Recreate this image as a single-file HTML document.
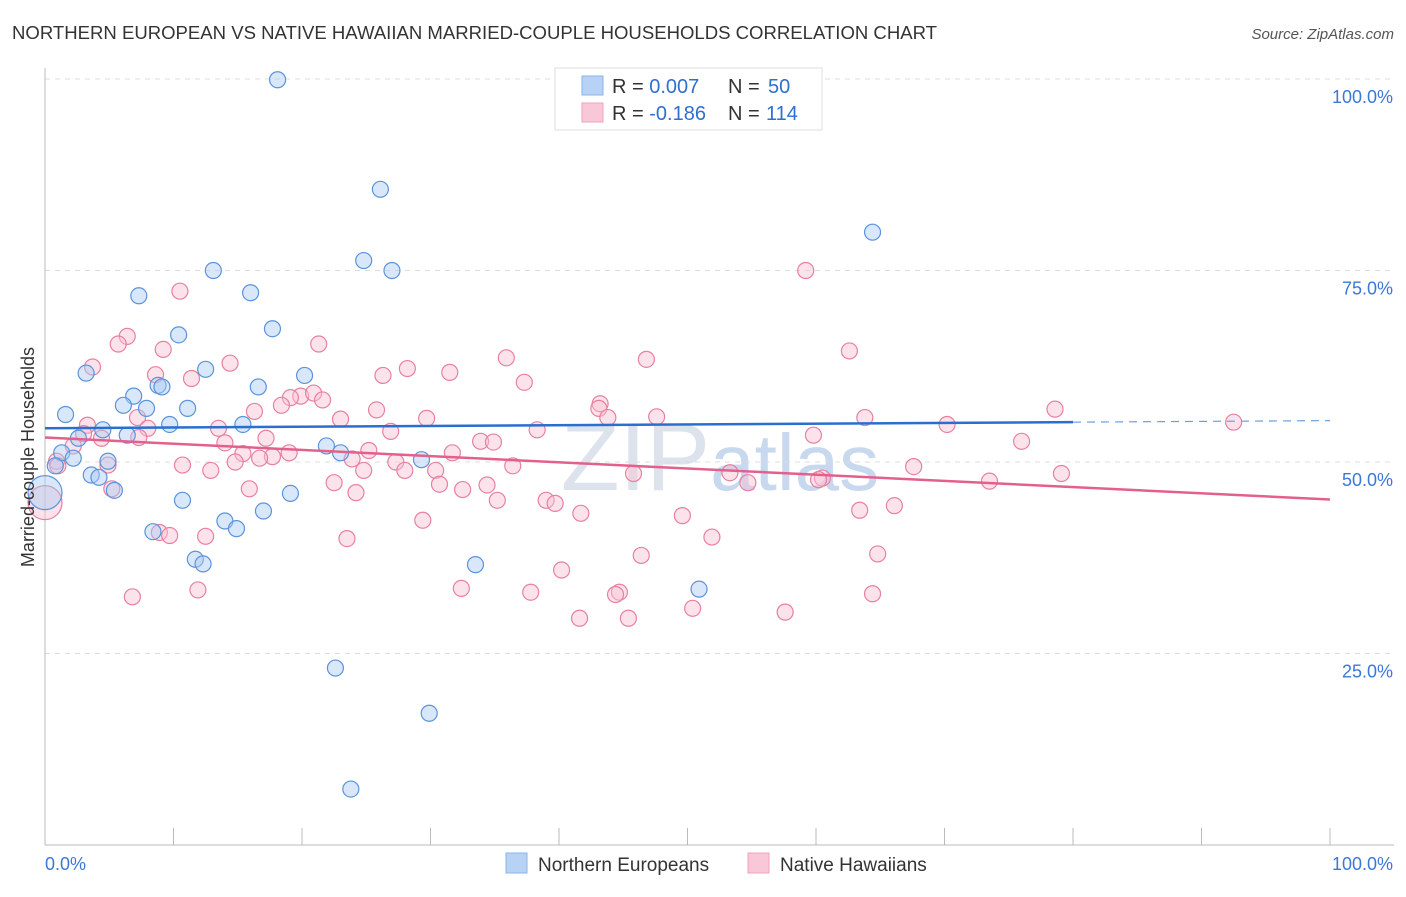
<!DOCTYPE html>
<html><head><meta charset="utf-8"><style>
body{margin:0;background:#fff;font-family:"Liberation Sans",sans-serif;}
svg text{font-family:"Liberation Sans",sans-serif;}
</style></head><body>
<svg id="chart" width="1406" height="892" xmlns="http://www.w3.org/2000/svg">
<text x="12" y="39" font-size="18" fill="#333" textLength="925" lengthAdjust="spacingAndGlyphs">NORTHERN EUROPEAN VS NATIVE HAWAIIAN MARRIED-COUPLE HOUSEHOLDS CORRELATION CHART</text>
<text x="1394" y="39" font-size="15" fill="#555" font-style="italic" text-anchor="end">Source: ZipAtlas.com</text>
<text x="720" y="490" font-size="96" fill="#dde3ec" text-anchor="middle" font-family="Liberation Serif">ZIP<tspan fill="#c8d8ee" font-family="Liberation Sans" font-size="80">atlas</tspan></text>
<g id="grid"></g>
<g id="axes"></g>
<g id="pts"></g>
<g id="lines"></g>
<text transform="translate(34,457) rotate(-90)" font-size="18" fill="#333" text-anchor="middle">Married-couple Households</text>
<g>
<rect x="555" y="68" width="267" height="62" fill="#fff" stroke="#ddd"/>
<rect x="582" y="76" width="21" height="19" fill="#b8d2f4" stroke="#8ab4ea"/>
<rect x="582" y="103" width="21" height="19" fill="#f9c8d8" stroke="#f0a0bc"/>
<text x="612" y="93" font-size="20" fill="#333">R = <tspan fill="#2f6fd0">0.007</tspan><tspan x="728">N = </tspan><tspan fill="#2f6fd0" x="768">50</tspan></text>
<text x="612" y="120" font-size="20" fill="#333">R = <tspan fill="#2f6fd0">-0.186</tspan><tspan x="728">N = </tspan><tspan fill="#2f6fd0" x="766">114</tspan></text>
</g>
<g>
<rect x="506" y="853" width="21" height="20" fill="#b8d2f4" stroke="#8ab4ea"/>
<text x="538" y="871" font-size="19" fill="#333">Northern Europeans</text>
<rect x="748" y="853" width="21" height="20" fill="#f9c8d8" stroke="#f0a0bc"/>
<text x="780" y="871" font-size="19" fill="#333">Native Hawaiians</text>
</g>
</svg>
<script>
const yTicks=[25,50,75,100];
const yTickLabels=["25.0%","50.0%","75.0%","100.0%"];
const blueX=[18.1,26.1,64.4,13.1,24.8,27.0,7.3,16.0,17.7,10.4,12.5,3.2,20.2,8.8,9.1,16.6,6.9,6.1,7.9,11.1,1.6,9.7,15.4,4.5,6.4,2.6,21.9,23.0,1.3,2.2,29.3,4.9,0.8,3.6,4.2,5.4,19.1,10.7,17.0,14.0,14.9,8.4,11.7,12.3,33.5,50.9,22.6,29.9,23.8,0];
const blueY=[99.9,85.6,80.0,75.0,76.3,75.0,71.7,72.1,67.4,66.6,62.1,61.6,61.3,60.0,59.8,59.8,58.6,57.4,57.0,57.0,56.2,54.9,54.9,54.2,53.5,53.1,52.1,51.2,51.2,50.5,50.3,50.1,49.5,48.3,48.0,46.3,45.9,45.0,43.6,42.3,41.3,40.9,37.3,36.7,36.6,33.4,23.1,17.2,7.3,46.0];
const pinkX=[59.2,10.5,6.4,5.7,21.3,9.2,62.6,35.9,46.8,3.7,14.4,28.2,31.5,26.3,8.6,11.4,37.3,19.9,20.9,21.6,19.1,18.4,43.2,43.1,16.3,25.8,7.2,29.7,23.0,43.8,47.6,63.8,78.6,92.5,70.2,3.3,13.5,26.9,8.0,3.0,59.8,4.4,17.2,38.3,7.3,14.0,33.9,34.9,2.2,76.0,25.2,31.7,15.4,17.7,16.7,19.0,23.9,14.8,0.9,27.3,1.0,4.9,10.7,36.4,28.0,24.8,30.4,12.9,45.8,53.3,67.6,79.1,22.5,60.5,60.2,30.7,34.4,73.5,54.7,32.5,5.2,15.9,24.2,35.2,39.0,39.7,66.1,63.4,41.7,49.6,29.4,8.9,9.7,12.5,23.5,51.9,46.4,64.8,40.2,32.4,11.9,37.8,6.8,44.7,44.4,64.4,50.4,57.6,41.6,45.4,0];
const pinkY=[75.0,72.3,66.4,65.4,65.4,64.7,64.5,63.6,63.4,62.4,62.9,62.2,61.7,61.3,61.4,60.9,60.4,58.6,59.0,58.1,58.4,57.4,57.6,57.0,56.6,56.8,55.8,55.7,55.6,55.8,55.9,55.8,56.9,55.2,54.9,54.8,54.4,54.0,54.4,53.7,53.5,53.1,53.1,54.2,53.2,52.5,52.7,52.6,52.1,52.7,51.5,51.2,51.1,50.7,50.5,51.2,50.4,50.0,50.1,50.0,49.5,49.6,49.6,49.5,48.9,48.9,48.9,48.9,48.5,48.6,49.4,48.5,47.3,47.9,47.7,47.1,47.0,47.5,47.3,46.4,46.5,46.5,46.0,45.0,45.0,44.6,44.3,43.7,43.3,43.0,42.4,40.8,40.4,40.3,40.0,40.2,37.8,38.0,35.9,33.5,33.3,33.0,32.4,33.0,32.7,32.8,30.9,30.4,29.6,29.6,44.7];
const blueTrend=[54.4,55.2];
const pinkTrend=[53.2,45.1];
const NS="http://www.w3.org/2000/svg";
const X=v=>45+v*12.85;
const Y=v=>845-v*7.66;
function mk(tag,attrs,parent){const e=document.createElementNS(NS,tag);for(const k in attrs)e.setAttribute(k,attrs[k]);document.getElementById(parent).appendChild(e);return e;}
yTicks.forEach((t,i)=>{
 const g=mk('line',{x1:45,x2:1394,y1:Y(t),y2:Y(t),stroke:'#dcdcdc','stroke-dasharray':'5,5'},'grid');
 
 
 const l=mk('text',{x:1393,y:Y(t)+24,'font-size':18,fill:'#3a78d8','text-anchor':'end'},'grid');
 l.textContent=yTickLabels[i];
 
 
});
const ax=mk('line',{x1:45,x2:1394,y1:845,y2:845,stroke:'#bbb'},'axes');


const ay=mk('line',{x1:45,x2:45,y1:68,y2:845,stroke:'#bbb'},'axes');


for(let i=0;i<=10;i++){const t=mk('line',{x1:X(i*10),x2:X(i*10),y1:828,y2:845,stroke:'#bbb'},'axes');
 
 }
const x0=mk('text',{x:45,y:870,'font-size':18,fill:'#3a78d8'},'axes');x0.textContent='0.0%';


const x1=mk('text',{x:1393,y:870,'font-size':18,fill:'#3a78d8','text-anchor':'end'},'axes');x1.textContent='100.0%';


function pts(xs,ys,fill,stroke,name){xs.forEach((x,i)=>{const big=(i===xs.length-1);
 const c=mk('circle',{cx:X(x),cy:Y(ys[i]),r:big?17:8,fill:fill,'fill-opacity':0.45,stroke:stroke,'stroke-width':1.2},'pts');
 
 });}
pts(pinkX,pinkY,'#f9c0d2','#e8809f','hawaiian-point');
pts(blueX,blueY,'#a9c9f2','#5b93dc','northern-point');
const by=x=>blueTrend[0]+(blueTrend[1]-blueTrend[0])*x/80;
const bl=mk('line',{x1:X(0),y1:Y(by(0)),x2:X(80),y2:Y(by(80)),stroke:'#2a6fd0','stroke-width':2.5},'lines');


const bd=mk('line',{x1:X(80),y1:Y(by(80)),x2:X(100),y2:Y(by(100)),stroke:'#6a9ee0','stroke-width':1.2,'stroke-dasharray':'8,6'},'lines');


const pl=mk('line',{x1:X(0),y1:Y(pinkTrend[0]),x2:X(100),y2:Y(pinkTrend[1]),stroke:'#e4608c','stroke-width':2.5},'lines');


</script>
</body></html>
